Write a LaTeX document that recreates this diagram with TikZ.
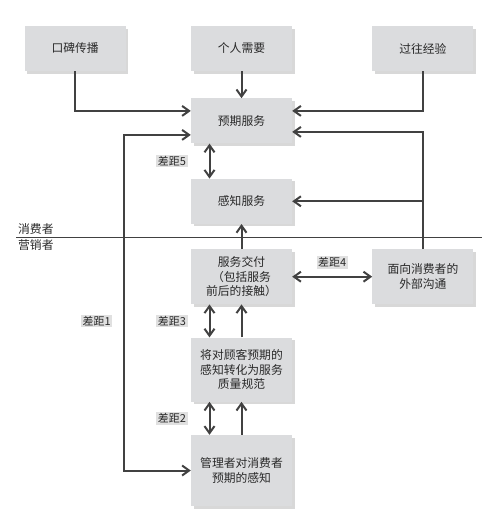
\documentclass[tikz,border=0pt]{standalone}
\usepackage{fontspec}
\setmainfont{Noto Sans CJK SC}
\usetikzlibrary{positioning, arrows.meta, shadows}
\definecolor{boxgray}{RGB}{219,220,222}
\definecolor{linegray}{RGB}{65,65,65}
\definecolor{textgray}{RGB}{40,40,40}
\tikzset{
>={Straight Barb[length=7pt,width=10pt]}, % barbed arrow heads
box/.style={fill=boxgray, text=textgray, minimum width=101pt, align=center,
  font=\fontsize{11.8}{14.5}\selectfont,
  drop shadow={shadow xshift=2.5pt, shadow yshift=-2.5pt, fill=black!30, opacity=.5}}, % grey boxes
gaplabel/.style={fill=black!12, text=textgray, inner sep=1.5pt, font=\fontsize{11}{13}\selectfont}, % the gap tags
link/.style={draw=linegray, line width=2pt},
side/.style={text=textgray, inner sep=2pt, font=\fontsize{11.8}{13}\selectfont},
}
\begin{document}
\begin{tikzpicture}[x=1pt, y=-1pt]
    \useasboundingbox (0,0) rectangle (500,514);

    \node[box, minimum height=45pt] (need) at (241.5,48.5) {个人需要};
    \node[box, minimum height=45pt, left=65pt of need] (word) {口碑传播};
    \node[box, minimum height=45pt, right=80pt of need] (past) {过往经验};
    \node[box, minimum height=45pt, below=27pt of need] (expect) {预期服务};
    \node[box, minimum height=45pt, below=35pt of expect] (perceive) {感知服务};
    \node[box, minimum height=55pt, below=25pt of perceive] (deliver) {服务交付\\（包括服务\\前后的接触）};
    \node[box, minimum height=55pt, right=80pt of deliver] (comm) {面向消费者的\\外部沟通};
    \node[box, minimum height=64pt, below=33pt of deliver] (spec) {将对顾客预期的\\感知转化为服务\\质量规范};
    \node[box, minimum height=71pt, below=33pt of spec] (mgmt) {管理者对消费者\\预期的感知};

    % consumer / marketer split
    \coordinate (sepl) at (16,237);
    \coordinate (sepr) at (482,237);
    \draw[linegray, line width=0.8pt] (sepl) -- (sepr);
    \node[side, anchor=south west] (consumer) at (sepl) {消费者};
    \node[side, anchor=north west] (marketer) at (sepl) {营销者};

    \draw[link, ->] (word.south) |- ([yshift=10pt]expect.west);
    \draw[link, ->] (need.south) -- (expect.north);
    \draw[link, ->] (past.south) |- ([yshift=10pt]expect.east);
    \draw[link, ->] (comm.north) |- ([yshift=-11pt]expect.east);
    \draw[link, ->] (comm.north |- perceive.east) -- (perceive.east);
    \draw[link, ->] (deliver.north) -- (perceive.south);

    \draw[link, <->] ([xshift=-32pt]expect.south) -- node[gaplabel, left=21pt] (gap5) {差距5} ([xshift=-32pt]perceive.north);
    \draw[link, <->] (deliver.east) -- node[gaplabel, above=7pt] (gap4) {差距4} (comm.west);
    \draw[link, <->] ([xshift=-32pt]deliver.south) -- node[gaplabel, left=21pt] (gap3) {差距3} ([xshift=-32pt]spec.north);
    \draw[link, ->] (spec.north) -- (deliver.south);
    \draw[link, <->] ([xshift=-32pt]spec.south) -- node[gaplabel, left=21pt] (gap2) {差距2} ([xshift=-32pt]mgmt.north);
    \draw[link, ->] (mgmt.north) -- (spec.south);

    \draw[link, <->] ([yshift=-14pt]expect.west) -- ++(-67,0) |- (mgmt.west);
    \node[gaplabel, left=43pt of gap3] (gap1) {差距1};
\end{tikzpicture}
\end{document}
